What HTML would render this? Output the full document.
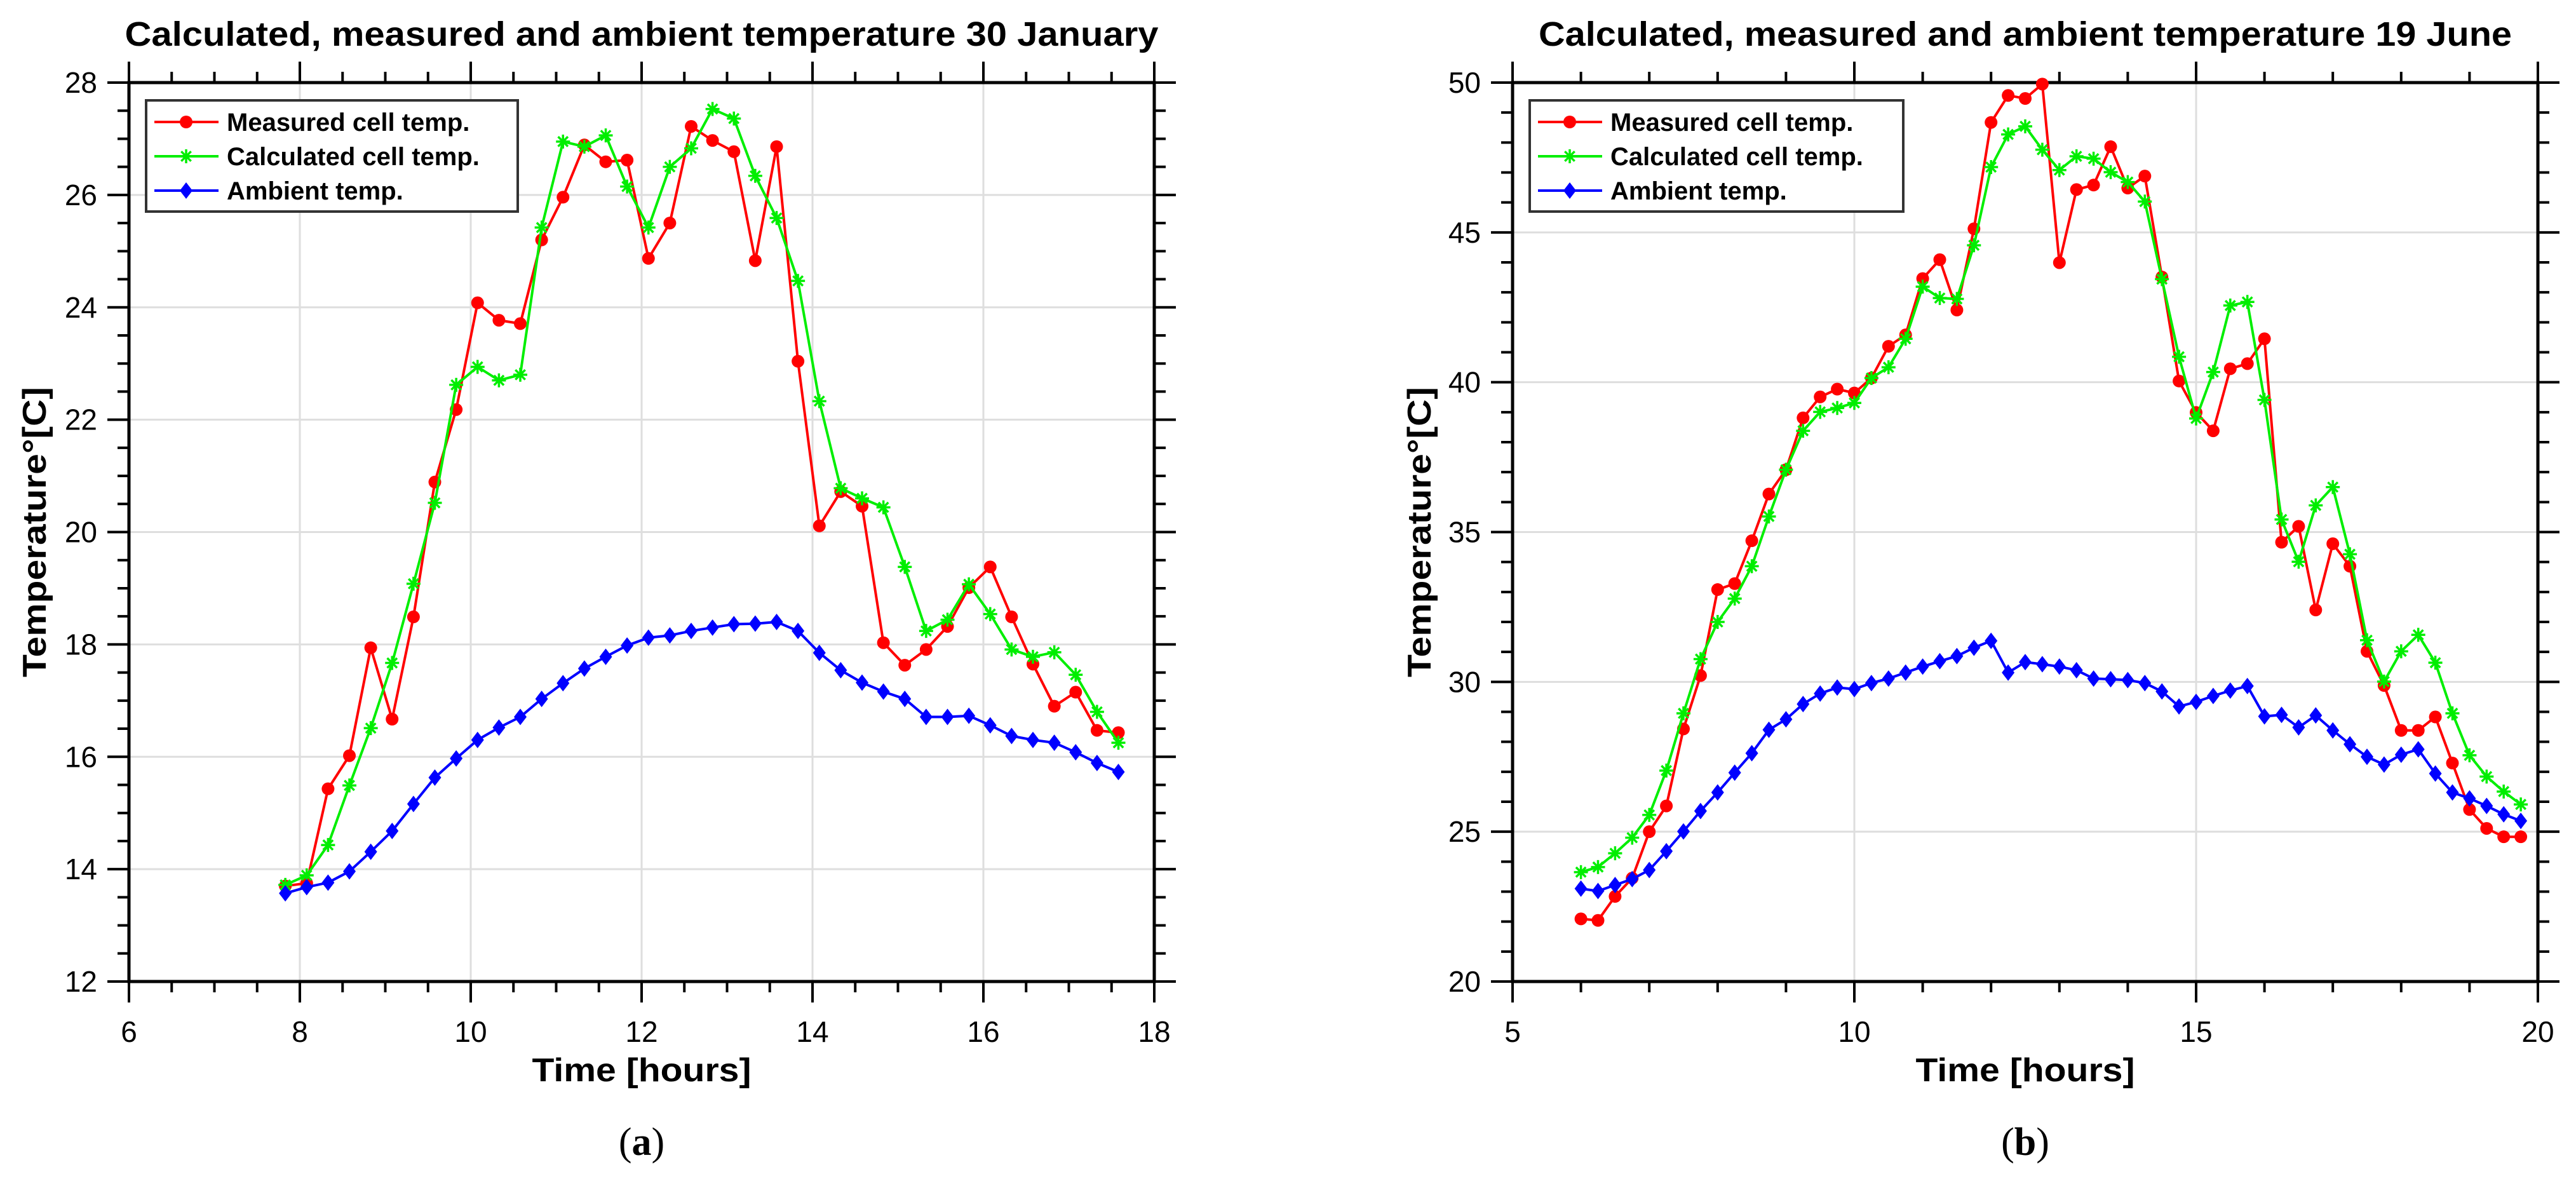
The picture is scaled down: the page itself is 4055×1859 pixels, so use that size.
<!DOCTYPE html>
<html><head><meta charset="utf-8"><style>
html,body{margin:0;padding:0;background:#fff;}
svg{display:block;}
text{font-family:"Liberation Sans",sans-serif;}
</style></head><body>
<svg id="fig" width="4055" height="1859" viewBox="0 0 4055 1859" xmlns="http://www.w3.org/2000/svg"></svg>
<script>
// ---------- Chart A data (30 January) ----------
const timesA = [];
for (let i = 0; i < 40; i++) timesA.push(7.83 + i * 0.25);
const measuredA = [13.7,13.75,15.43,16.02,17.94,16.67,18.49,20.89,22.18,24.08,23.77,23.71,25.2,25.96,26.89,26.59,26.62,24.87,25.5,27.22,26.97,26.77,24.83,26.86,23.04,20.11,20.72,20.46,18.03,17.63,17.91,18.32,19.01,19.38,18.49,17.65,16.9,17.15,16.47,16.43];
const calculatedA = [13.72,13.89,14.43,15.49,16.51,17.67,19.08,20.52,22.62,22.94,22.7,22.8,25.42,26.95,26.86,27.06,26.15,25.42,26.5,26.83,27.53,27.36,26.34,25.59,24.47,22.33,20.78,20.6,20.44,19.38,18.24,18.44,19.07,18.54,17.91,17.78,17.86,17.46,16.8,16.25];
const ambientA = [13.57,13.68,13.76,13.96,14.31,14.68,15.16,15.63,15.97,16.3,16.52,16.71,17.03,17.31,17.57,17.78,17.98,18.12,18.16,18.24,18.3,18.36,18.37,18.4,18.24,17.85,17.54,17.32,17.16,17.03,16.71,16.71,16.73,16.56,16.37,16.3,16.25,16.08,15.89,15.73];
const xTicksA = [6,8,10,12,14,16,18];
const yTicksA = [12,14,16,18,20,22,24,26,28];

// ---------- Chart B data (19 June) ----------
const timesB = [];
for (let i = 0; i < 56; i++) timesB.push(6 + i * 0.25);
const measuredB = [22.09,22.04,22.84,23.45,25.0,25.86,28.43,30.21,33.08,33.28,34.71,36.27,37.08,38.81,39.51,39.77,39.64,40.14,41.2,41.58,43.46,44.09,42.41,45.12,48.67,49.57,49.47,49.95,43.99,46.43,46.58,47.86,46.48,46.88,43.51,40.04,38.99,38.38,40.45,40.62,41.45,34.66,35.19,32.4,34.61,33.86,31.02,29.88,28.38,28.38,28.83,27.29,25.74,25.11,24.83,24.83];
const calculatedB = [23.65,23.82,24.28,24.8,25.56,27.04,28.95,30.76,32.0,32.78,33.86,35.52,37.08,38.38,39.01,39.14,39.31,40.14,40.5,41.45,43.19,42.81,42.78,44.57,47.18,48.27,48.54,47.76,47.08,47.54,47.46,47.01,46.68,46.03,43.44,40.85,38.79,40.34,42.56,42.68,39.41,35.42,34.01,35.89,36.5,34.26,31.39,30.01,31.02,31.57,30.64,28.95,27.55,26.84,26.34,25.91];
const ambientB = [23.1,23.02,23.22,23.42,23.72,24.35,25.01,25.69,26.31,26.97,27.62,28.4,28.75,29.26,29.61,29.81,29.76,29.96,30.11,30.31,30.51,30.69,30.86,31.14,31.37,30.31,30.66,30.59,30.51,30.39,30.11,30.09,30.06,29.96,29.68,29.18,29.33,29.53,29.71,29.86,28.85,28.9,28.48,28.88,28.38,27.92,27.5,27.24,27.57,27.75,26.94,26.31,26.11,25.86,25.58,25.36];
const xTicksB = [5,10,15,20];
const yTicksB = [20,25,30,35,40,45,50];

const NS = "http://www.w3.org/2000/svg";
const svg = document.getElementById('fig');
function mk(tag, attrs, parent) {
  const e = document.createElementNS(NS, tag);
  for (const k in attrs) e.setAttribute(k, attrs[k]);
  (parent || svg).appendChild(e);
  return e;
}

function chart(cfg) {
  const g = mk('g', {});
  
  
  const L = cfg.left, R = cfg.right, T = 130, B = 1545;
  const sx = v => L + (v - cfg.xmin) / (cfg.xmax - cfg.xmin) * (R - L);
  const sy = v => B - (v - cfg.ymin) / (cfg.ymax - cfg.ymin) * (B - T);

  // grid
  const grid = mk('g', {stroke: '#dedede', 'stroke-width': 3}, g);
  
  
  cfg.xticks.forEach(v => { if (v > cfg.xmin && v < cfg.xmax) mk('line', {x1: sx(v), x2: sx(v), y1: T, y2: B}, grid); });
  cfg.yticks.forEach(v => { if (v > cfg.ymin && v < cfg.ymax) mk('line', {x1: L, x2: R, y1: sy(v), y2: sy(v)}, grid); });

  // ticks
  const tk = mk('g', {stroke: '#000', 'stroke-width': 4}, g);
  
  
  for (let v = cfg.xmin; v <= cfg.xmax + 1e-9; v += cfg.xminor) {
    const major = cfg.xticks.some(t => Math.abs(t - v) < 1e-6);
    const len = major ? 33 : 17;
    mk('line', {x1: sx(v), x2: sx(v), y1: B, y2: B + len}, tk);
    mk('line', {x1: sx(v), x2: sx(v), y1: T, y2: T - len}, tk);
  }
  for (let v = cfg.ymin; v <= cfg.ymax + 1e-9; v += cfg.yminor) {
    const major = cfg.yticks.some(t => Math.abs(t - v) < 1e-6);
    const len = major ? 34 : 18;
    mk('line', {x1: L - len, x2: L, y1: sy(v), y2: sy(v)}, tk);
    mk('line', {x1: R, x2: R + len, y1: sy(v), y2: sy(v)}, tk);
  }
  const box = mk('rect', {x: L, y: T, width: R - L, height: B - T, fill: 'none', stroke: '#000', 'stroke-width': 5}, g);
  
  

  // tick labels
  cfg.xticks.forEach(v => {
    const t = mk('text', {x: sx(v), y: 1640, 'font-size': 46, 'text-anchor': 'middle'}, g);
    
    
    t.textContent = v;
  });
  cfg.yticks.forEach(v => {
    const t = mk('text', {x: L - 50, y: sy(v) + 16, 'font-size': 46, 'text-anchor': 'end'}, g);
    
    
    t.textContent = v;
  });

  // titles
  const cx = (L + R) / 2;
  const ti = mk('text', {x: cx, y: 72, 'font-size': 54, 'font-weight': 'bold', 'text-anchor': 'middle', textLength: cfg.titleW, lengthAdjust: 'spacingAndGlyphs'}, g);
  
  
  ti.textContent = cfg.title;
  const xl = mk('text', {x: cx, y: 1702, 'font-size': 52, 'font-weight': 'bold', 'text-anchor': 'middle', textLength: 345, lengthAdjust: 'spacingAndGlyphs'}, g);
  
  
  xl.textContent = 'Time [hours]';
  const yl = mk('text', {x: 0, y: 0, 'font-size': 52, 'font-weight': 'bold', 'text-anchor': 'middle', textLength: 457, lengthAdjust: 'spacingAndGlyphs', transform: `translate(${cfg.ylabX},${(T + B) / 2}) rotate(-90)`}, g);
  
  
  yl.textContent = 'Temperature°[C]';
  const cap = mk('text', {x: cx, y: 1818, 'font-size': 62, 'text-anchor': 'middle', style: 'font-family:"Liberation Serif",serif'}, g);
  
  
  cap.innerHTML = '(<tspan font-weight="bold">' + cfg.panel + '</tspan>)';

  // series
  const series = [
    {name: 'ambient', vals: cfg.amb, color: '#0000ff', mark: 'diamond'},
    {name: 'measured', vals: cfg.meas, color: '#ff0000', mark: 'circle'},
    {name: 'calculated', vals: cfg.calc, color: '#00ee00', mark: 'star'}
  ];
  const order = [series[1], series[2], series[0]];
  order.forEach(s => {
    const sg = mk('g', {}, g);
    
    
    const pts = s.vals.map((v, i) => sx(cfg.times[i]).toFixed(1) + ',' + sy(v).toFixed(1)).join(' ');
    const pl = mk('polyline', {points: pts, fill: 'none', stroke: s.color, 'stroke-width': 4, 'stroke-linejoin': 'round'}, sg);
    
    
    s.vals.forEach((v, i) => {
      const m = marker(s.mark, sx(cfg.times[i]), sy(v), s.color, sg);
      
      
    });
  });

  // legend
  const lg = mk('g', {}, g);
  
  
  const lx = L + 27;
  mk('rect', {x: lx, y: 158, width: cfg.legW, height: 175, fill: '#fff', stroke: '#333', 'stroke-width': 4}, lg);
  const entries = [
    ['Measured cell temp.', '#ff0000', 'circle', 192],
    ['Calculated cell temp.', '#00ee00', 'star', 246],
    ['Ambient temp.', '#0000ff', 'diamond', 300]
  ];
  entries.forEach(e => {
    const eg = mk('g', {}, lg);
    
    
    mk('line', {x1: lx + 13, x2: lx + 114, y1: e[3], y2: e[3], stroke: e[1], 'stroke-width': 4}, eg);
    marker(e[2], lx + 63, e[3], e[1], eg);
    const t = mk('text', {x: lx + 127, y: e[3] + 14, 'font-size': 40, 'font-weight': 'bold'}, eg);
    t.textContent = e[0];
  });
}

function marker(type, x, y, c, parent) {
  if (type === 'circle') return mk('circle', {cx: x, cy: y, r: 10, fill: c}, parent);
  if (type === 'diamond') return mk('polygon', {points: `${x},${y - 13} ${x + 10},${y} ${x},${y + 13} ${x - 10},${y}`, fill: c}, parent);
  const gg = mk('g', {stroke: c, 'stroke-width': 3.5}, parent);
  const r = 11;
  mk('line', {x1: x, x2: x, y1: y - r, y2: y + r}, gg);
  mk('line', {x1: x - r, x2: x + r, y1: y, y2: y}, gg);
  mk('line', {x1: x - r * 0.7, x2: x + r * 0.7, y1: y - r * 0.7, y2: y + r * 0.7}, gg);
  mk('line', {x1: x - r * 0.7, x2: x + r * 0.7, y1: y + r * 0.7, y2: y - r * 0.7}, gg);
  return gg;
}

chart({name: 'chart-january', left: 203, right: 1817, xmin: 6, xmax: 18, ymin: 12, ymax: 28,
  xminor: 0.5, yminor: 0.5, xticks: xTicksA, yticks: yTicksA,
  times: timesA, meas: measuredA, calc: calculatedA, amb: ambientA,
  title: 'Calculated, measured and ambient temperature 30 January', titleW: 1627,
  ylabX: 72, legW: 585, panel: 'a'});
chart({name: 'chart-june', left: 2381, right: 3995, xmin: 5, xmax: 20, ymin: 20, ymax: 50,
  xminor: 1, yminor: 1, xticks: xTicksB, yticks: yTicksB,
  times: timesB, meas: measuredB, calc: calculatedB, amb: ambientB,
  title: 'Calculated, measured and ambient temperature 19 June', titleW: 1532,
  ylabX: 2252, legW: 588, panel: 'b'});
</script>
</body></html>
